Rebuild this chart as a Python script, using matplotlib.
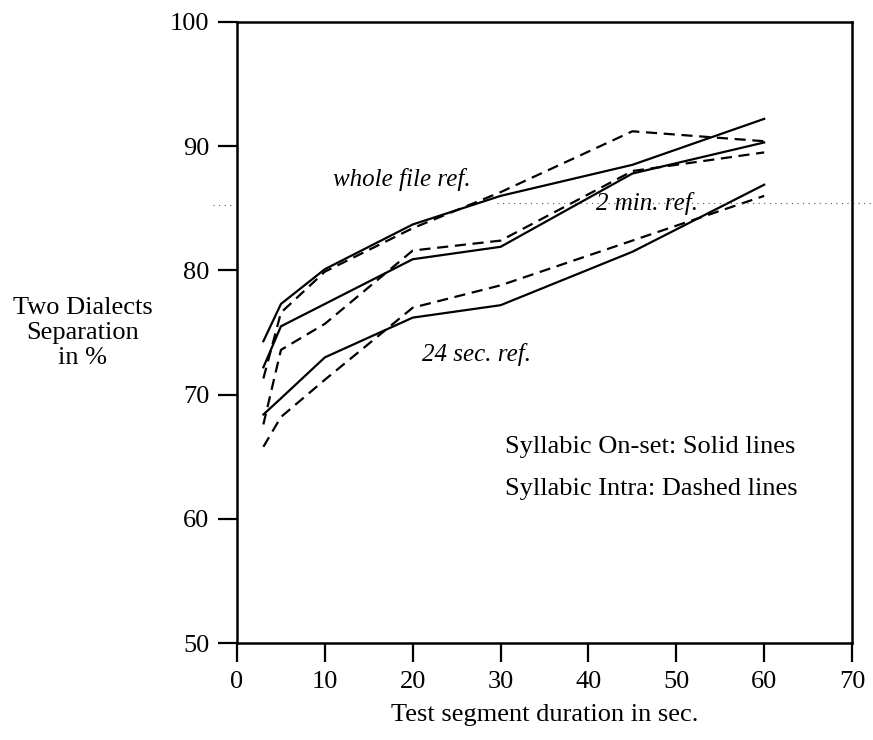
import matplotlib
matplotlib.use("Agg")
import matplotlib.pyplot as plt

# test segment durations (sec.)
durations = [3, 5, 10, 20, 30, 45, 60]

# separation in %
whole_onset = [74.3, 77.3, 80.1, 83.7, 86.0, 88.5, 92.2]
whole_intra = [71.3, 76.6, 79.9, 83.4, 86.3, 91.2, 90.4]
min2_onset = [72.2, 75.5, 77.3, 80.9, 81.9, 87.8, 90.3]
min2_intra = [67.6, 73.6, 75.7, 81.6, 82.4, 88.0, 89.5]
sec24_onset = [68.4, 69.7, 73.0, 76.2, 77.2, 81.5, 86.9]
sec24_intra = [65.8, 68.2, 71.2, 77.0, 78.8, 82.4, 86.0]

x_ticks = [0, 10, 20, 30, 40, 50, 60, 70]
y_ticks = [50, 60, 70, 80, 90, 100]

plt.rcParams['font.family'] = ['Liberation Serif', 'DejaVu Serif']

fig = plt.figure(figsize=(8.73, 7.4), dpi=100)
ax = fig.add_axes([0.2715, 0.131, 0.7045, 0.8393])

lw = 1.6
dash = (0, (5, 3))
for solid, dashed in [(whole_onset, whole_intra),
                      (min2_onset, min2_intra),
                      (sec24_onset, sec24_intra)]:
    ax.plot(durations, solid, color='black', lw=lw, solid_joinstyle='miter')
    ax.plot(durations, dashed, color='black', lw=lw, linestyle=dash)

# faint dotted scan line (artefact of the scanned original)
ax.plot([29.6, 72.4], [85.45, 85.45], color='#555555', lw=0.8,
        linestyle=(0, (1, 4)), clip_on=False)
ax.plot([-2.7, -0.5], [85.3, 85.3], color='#555555', lw=0.8,
        linestyle=(0, (1, 4)), clip_on=False)

ax.set_xlim(0, 70)
ax.set_ylim(50, 100)
ax.set_xticks(x_ticks)
ax.set_yticks(y_ticks)
ax.tick_params(direction='out', length=14, width=1.6, labelsize=19, pad=6)
for s in ax.spines.values():
    s.set_linewidth(1.8)

ax.text(18.7, 87.3, 'whole file ref.', style='italic', fontsize=18,
        ha='center', va='center')
ax.text(40.9, 85.4, '2 min. ref.', style='italic', fontsize=18,
        ha='left', va='center')
ax.text(21.0, 73.2, '24 sec. ref.', style='italic', fontsize=18,
        ha='left', va='center')
ax.text(30.5, 65.8, 'Syllabic On-set: Solid lines', fontsize=19,
        ha='left', va='center')
ax.text(30.5, 62.4, 'Syllabic Intra: Dashed lines', fontsize=19,
        ha='left', va='center')

ax.set_xlabel('Test segment duration in sec.', fontsize=19, labelpad=8)
fig.text(83 / 873, 1 - 333 / 740, 'Two Dialects\nSeparation\nin %',
         ha='center', va='center', fontsize=19, linespacing=1.2)

fig.savefig('out.png', dpi=100)
